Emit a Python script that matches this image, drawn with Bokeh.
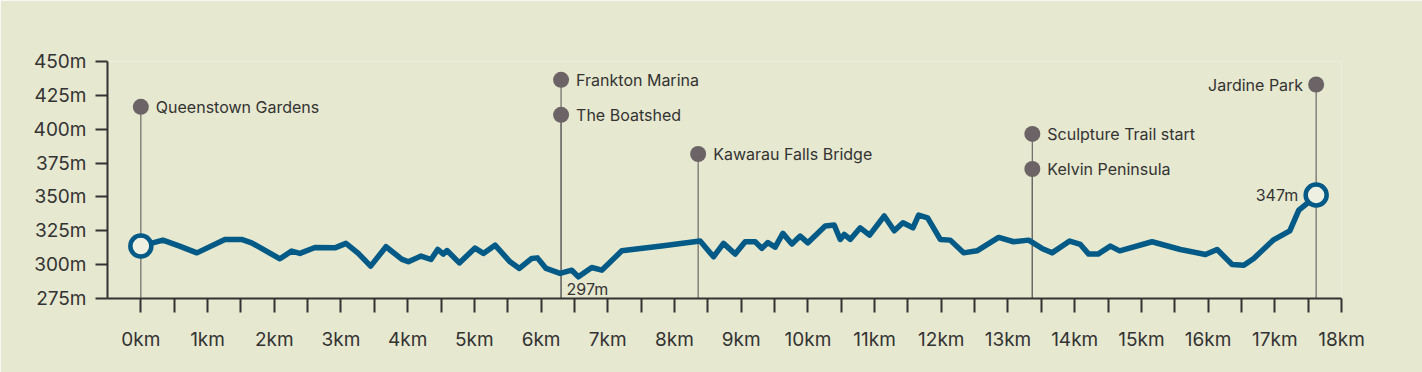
from bokeh.plotting import figure
from bokeh.models import FixedTicker, PrintfTickFormatter, Range1d, ColumnDataSource
from bokeh.core.properties import value
from bokeh.embed import file_html
from bokeh.resources import INLINE

# elevation profile (km, metres)
km = [0.00, 0.33, 0.58, 0.84, 1.26, 1.51, 1.66, 2.085, 2.26, 2.385, 2.61, 2.91, 3.075, 3.26,
      3.445, 3.675, 3.91, 4.01, 4.20, 4.35, 4.45, 4.535, 4.59, 4.775, 5.01, 5.135, 5.31, 5.535,
      5.675, 5.86, 5.945, 6.075, 6.285, 6.46, 6.56, 6.76, 6.91, 7.21, 7.835, 8.385, 8.585, 8.735,
      8.91, 9.06, 9.21, 9.31, 9.40, 9.51, 9.625, 9.76, 9.885, 10.00, 10.26, 10.395, 10.485,
      10.545, 10.635, 10.785, 10.925, 11.145, 11.295, 11.425, 11.575, 11.66, 11.795, 11.985,
      12.135, 12.335, 12.535, 12.86, 13.085, 13.31, 13.51, 13.66, 13.925, 14.085, 14.21, 14.35,
      14.535, 14.675, 15.16, 15.585, 15.96, 16.135, 16.36, 16.535, 16.685, 16.975, 17.225,
      17.36, 17.485, 17.62]
elev = [313.7, 318.1, 313.7, 308.7, 318.6, 318.6, 316.1, 304.3, 310.0, 308.3, 312.7, 312.4,
        315.7, 308.3, 298.9, 313.2, 304.1, 302.1, 306.3, 303.8, 311.2, 307.8, 310.4, 301.3,
        312.2, 308.3, 314.4, 302.1, 297.2, 304.6, 305.0, 297.2, 293.5, 295.9, 291.0, 297.9,
        295.9, 310.2, 313.9, 317.4, 305.8, 315.7, 307.8, 316.9, 316.9, 312.0, 316.3, 312.9,
        323.1, 315.2, 321.1, 316.1, 328.5, 329.2, 318.6, 322.3, 318.6, 327.2, 321.8, 335.9,
        325.0, 330.9, 327.2, 336.6, 334.6, 318.6, 318.1, 308.7, 310.2, 320.1, 316.9, 318.1,
        312.0, 308.7, 317.4, 314.9, 307.8, 307.8, 313.7, 310.2, 316.9, 311.2, 307.5, 311.2,
        300.1, 299.6, 304.6, 318.1, 325.0, 340.3, 345.3, 351.4]

# landmarks
ann_names = ["Queenstown Gardens", "Frankton Marina", "The Boatshed", "Kawarau Falls Bridge",
             "Sculpture Trail start", "Kelvin Peninsula", "Jardine Park"]
ann_km = [0.0, 6.3, 6.3, 8.355, 13.365, 13.365, 17.62]
ann_elev = [416.5, 436.5, 410.6, 381.7, 396.5, 370.6, 433.0]

min_label = "297m"
max_label = "347m"

y_ticks = [275, 300, 325, 350, 375, 400, 425, 450]
x_major = list(range(0, 19))
x_minor = [i + 0.5 for i in range(0, 18)]

BG = "#e6e8cf"
INK = "#333333"
BLUE = "#035a87"
DOT = "#6c6366"
FONT = "Inter"

p = figure(width=1422, height=372, output_backend="svg", toolbar_location=None,
           x_range=Range1d(-0.5, 18), y_range=Range1d(275, 450),
           min_border_left=107, min_border_right=81, min_border_top=61, min_border_bottom=74)
p.background_fill_color = BG
p.border_fill_color = BG
p.outline_line_color = None
p.grid.visible = False

for ax in (p.xaxis[0], p.yaxis[0]):
    ax.axis_line_color = INK
    ax.axis_line_width = 2
    ax.major_tick_line_color = INK
    ax.major_tick_line_width = 2
    ax.minor_tick_line_color = INK
    ax.minor_tick_line_width = 2
    ax.major_tick_in = 0
    ax.minor_tick_in = 0
    ax.major_label_text_font = FONT
    ax.major_label_text_font_size = "19px"
    ax.major_label_text_color = INK

xa = p.xaxis[0]
xa.ticker = FixedTicker(ticks=x_major, minor_ticks=x_minor)
xa.formatter = PrintfTickFormatter(format="%dkm")
xa.major_tick_out = 14
xa.minor_tick_out = 14
xa.major_label_standoff = 15

ya = p.yaxis[0]
ya.ticker = FixedTicker(ticks=y_ticks)
ya.formatter = PrintfTickFormatter(format="%dm")
ya.major_tick_out = 12
ya.minor_tick_out = 0
ya.major_label_standoff = 9

# landmark stems
p.segment(x0=ann_km, y0=[275] * len(ann_km), x1=ann_km, y1=ann_elev,
          line_color="#6a6a66", line_width=1.2)

# profile line
p.line(km, elev, line_color=BLUE, line_width=5.5, line_join="round", line_cap="round")

# start / end markers
p.scatter([km[0], km[-1]], [elev[0], elev[-1]], size=21, fill_color="#eef0e2",
          line_color=BLUE, line_width=4.5)

# landmark dots and labels
p.scatter(ann_km, ann_elev, size=16, fill_color=DOT, line_color=None)
last = km[-1]
src = ColumnDataSource(dict(
    x=ann_km, y=ann_elev, t=ann_names,
    align=["right" if abs(k - last) < 0.05 else "left" for k in ann_km],
    xo=[-13 if abs(k - last) < 0.05 else 15 for k in ann_km]))
p.text(x="x", y="y", text="t", source=src, text_align="align", x_offset="xo",
       text_baseline="middle", text_font=value(FONT), text_font_size=value("16px"),
       text_color=INK)

# min / max labels
imin = elev.index(min(elev))
p.text(x=[km[imin]], y=[275], text=[min_label], text_align="center", text_baseline="middle",
       x_offset=9, y_offset=-10, text_font=value(FONT), text_font_size=value("16px"),
       text_color=INK)
p.text(x=[km[-1]], y=[elev[-1]], text=[max_label], text_align="right", text_baseline="middle",
       x_offset=-18, text_font=value(FONT), text_font_size=value("16px"), text_color=INK)

open("out.html", "w").write(file_html(p, INLINE))
